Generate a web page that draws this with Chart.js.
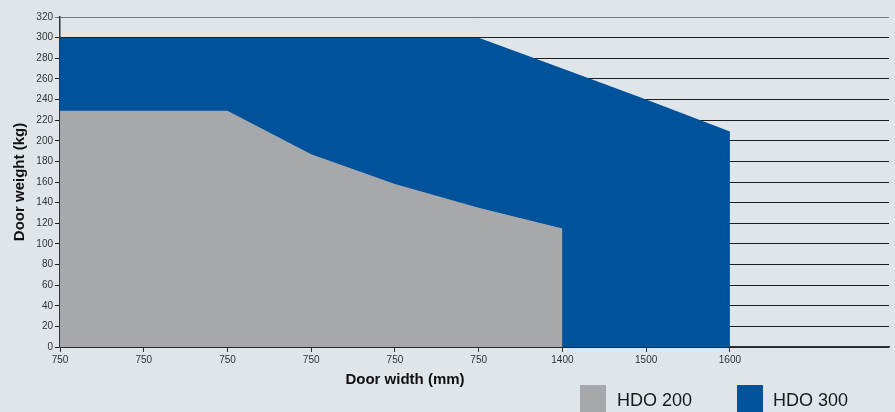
<!DOCTYPE html>
<html><head><meta charset="utf-8">
<script src="https://cdn.jsdelivr.net/npm/chart.js@4/dist/chart.umd.min.js"></script>
<style>
html,body{margin:0;padding:0;background:#dfe5e8;}
#wrap{position:relative;width:895px;height:412px;overflow:hidden;background:#dfe5e8;font-family:"Liberation Sans",Arial,sans-serif;}
canvas{position:absolute;left:0;top:0;}
#xtitle{position:absolute;left:305px;width:200px;top:370px;text-align:center;font-weight:bold;font-size:15px;color:#111;line-height:18px;}
.sw{position:absolute;top:385px;width:26px;height:40px;}
.lt{position:absolute;top:389px;font-size:18px;color:#1a1a1a;line-height:22px;}
</style></head><body>
<div id="wrap">
<canvas id="c" width="895" height="412"></canvas>
<div id="xtitle">Door width (mm)</div>
<div class="sw" style="left:580px;background:#a7a8ab"></div><div class="lt" style="left:617px">HDO 200</div>
<div class="sw" style="left:737px;background:#00529b"></div><div class="lt" style="left:773px">HDO 300</div>
</div>
<script>
const tickLabels = ['750','750','750','750','750','750','1400','1500','1600'];
const hdo200 = [229, 229, 229, 187, 158, 135, 115];
const hdo300 = [300, 300, 300, 300, 300, 300, 270, 240, 209];
const seriesNames = ['HDO 200', 'HDO 300'];
const capValue = 300;

Chart.defaults.font.family = '"Liberation Sans", Arial, sans-serif';

const capLine = {
  id: 'capLine',
  afterDatasetsDraw(chart) {
    const {ctx, chartArea, scales} = chart;
    const p = scales.y.getPixelForValue(capValue);
    const y = Math.round(p - 0.5) + 0.5;
    ctx.save();
    ctx.strokeStyle = '#1e1e1e';
    ctx.lineWidth = 1;
    ctx.beginPath();
    ctx.moveTo(chartArea.left, y);
    ctx.lineTo(chartArea.right, y);
    ctx.stroke();
    ctx.restore();
  }
};

new Chart(document.getElementById('c'), {
  type: 'line',
  data: {
    datasets: [
      {
        label: seriesNames[0],
        data: hdo200.map((v, i) => ({x: i, y: v})),
        backgroundColor: '#a7a8ab',
        borderWidth: 0,
        borderColor: 'rgba(0,0,0,0)',
        fill: 'origin',
        pointRadius: 0,
        tension: 0,
        order: 0
      },
      {
        label: seriesNames[1],
        data: hdo300.map((v, i) => ({x: i, y: v})),
        backgroundColor: '#00529b',
        borderWidth: 0,
        borderColor: 'rgba(0,0,0,0)',
        fill: 'origin',
        pointRadius: 0,
        tension: 0,
        order: 1
      }
    ]
  },
  options: {
    responsive: false,
    animation: false,
    layout: {padding: {top: 17, right: 6, left: 0, bottom: 0}},
    plugins: {legend: {display: false}, tooltip: {enabled: false}},
    scales: {
      x: {
        type: 'linear',
        min: 0,
        max: 9.9,
        afterBuildTicks: s => { s.ticks = tickLabels.map((_, i) => ({value: i})); },
        afterFit: s => { s.height = 65; },
        ticks: {
          autoSkip: false,
          maxRotation: 0,
          padding: 2,
          color: '#333',
          font: {size: 10},
          callback: (v, i) => tickLabels[i]
        },
        grid: {drawOnChartArea: false, drawTicks: true, tickLength: 5, color: '#333'},
        border: {color: '#333', width: 1.5}
      },
      y: {
        min: 0,
        max: 320,
        afterFit: s => { s.width = 60; },
        ticks: {stepSize: 20, padding: 2, color: '#333', font: {size: 10}},
        grid: {
          tickLength: 5,
          lineWidth: 1,
          color: ctx => ctx.tick && ctx.tick.value === 320 ? '#777' : '#1e1e1e'
        },
        border: {color: '#333', width: 1.5},
        title: {
          display: true,
          text: 'Door weight (kg)',
          color: '#111',
          font: {size: 15, weight: 'bold'},
          padding: {top: 11, bottom: 0}
        }
      }
    }
  },
  plugins: [capLine]
});
</script>
</body></html>
